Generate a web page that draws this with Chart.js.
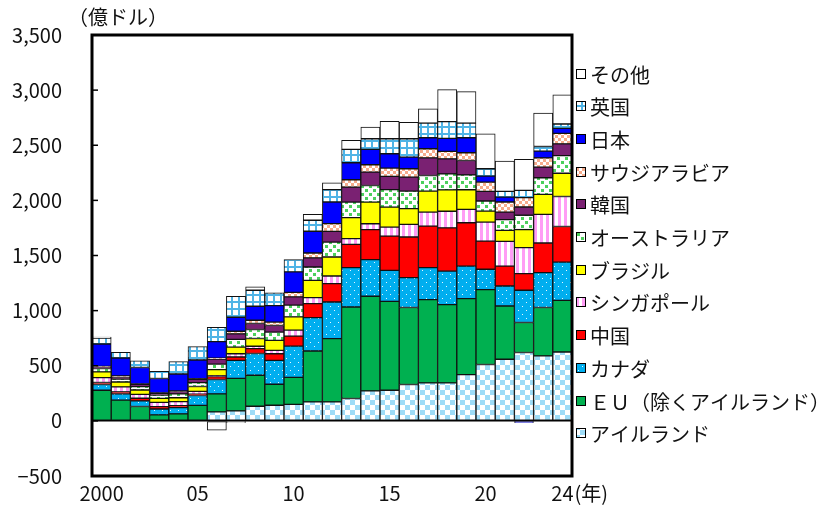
<!DOCTYPE html>
<html lang="ja">
<head>
<meta charset="utf-8">
<title>国・地域別 対内直接投資</title>
<script src="https://cdn.jsdelivr.net/npm/chart.js@4.4.1/dist/chart.umd.min.js"></script>
<style>
  html, body { margin: 0; padding: 0; background: #fff; }
  #wrap { width: 830px; height: 505px; }
</style>
</head>
<body>
<div id="wrap"><canvas id="fdi" width="830" height="505"></canvas></div>
<script>
// 年次（2000〜2024年）、単位：億ドル
const years = ['2000','2001','2002','2003','2004','2005','2006','2007','2008','2009','2010','2011','2012',
               '2013','2014','2015','2016','2017','2018','2019','2020','2021','2022','2023','2024'];
const xTickLabels = ['2000','','','','','05','','','','','10','','','','','15','','','','','20','','','','24'];
const yTicks = { min: -500, max: 3500, step: 500 };

const ireland   = [0,0,0,0,0,0,82,90,133,142,149,172,172,203,272,278,330,344,344,420,511,559,620,589,625];
const eu        = [278,188,130,54,63,140,163,296,281,190,245,462,574,830,858,806,698,756,710,689,680,483,272,439,468];
const canada    = [52,57,51,54,57,90,130,163,197,217,284,303,332,357,332,281,272,290,304,295,184,181,293,317,347];
const china     = [18,18,24,21,18,12,27,30,45,60,91,127,167,211,272,311,368,377,393,393,256,181,151,268,323];
const singapore = [45,45,36,39,36,25,9,30,21,30,54,54,69,52,54,82,115,127,150,121,172,224,236,260,272];
const brazil    = [52,45,39,36,36,45,54,60,70,91,121,157,172,190,196,181,142,190,194,178,100,100,163,181,211];
const australia = [30,25,30,30,35,35,50,70,82,75,106,121,136,141,151,158,159,142,145,136,91,97,130,151,160];
const korea     = [12,20,21,15,21,30,45,50,54,60,75,82,97,136,121,121,127,160,136,130,88,69,75,96,106];
const saudi     = [8,9,5,5,5,5,9,24,30,30,40,45,70,67,67,75,76,82,69,70,84,91,85,85,96];
const japan     = [202,163,148,130,154,170,150,127,127,151,187,197,196,154,139,130,105,100,118,136,54,45,-15,60,45];
const uk        = [54,51,60,66,112,121,130,190,145,115,112,100,112,121,97,136,167,132,151,132,67,52,66,43,40];
const others    = [8,0,0,0,0,0,-85,-15,30,0,0,54,63,82,105,159,150,130,290,287,317,275,281,302,265];

const FONT = '"Noto Sans CJK JP", "Noto Sans", sans-serif';
const NARROW = '"Liberation Sans Narrow", "Noto Sans CJK JP", sans-serif';
const canvas = document.getElementById('fdi');
const ctx = canvas.getContext('2d');

// small repeating tiles for the hatched series
function tile(w, h, bg, paint) {
  const c = document.createElement('canvas');
  c.width = w; c.height = h;
  const g = c.getContext('2d');
  g.fillStyle = bg;
  g.fillRect(0, 0, w, h);
  if (paint) paint(g);
  return ctx.createPattern(c, 'repeat');
}

const fills = {
  ireland: tile(10, 10, '#ffffff', g => {
    g.fillStyle = '#9edcf7';
    g.fillRect(0, 0, 5, 5); g.fillRect(5, 5, 5, 5);
  }),
  eu: '#00b050',
  canada: tile(8, 8, '#00aeef', g => {
    g.fillStyle = '#e8f8ff';
    g.fillRect(2, 2, 1, 1); g.fillRect(6, 6, 1, 1);
  }),
  china: '#ff0000',
  singapore: tile(6, 6, '#ffffff', g => {
    g.fillStyle = '#ff9df5';
    g.fillRect(0, 0, 3, 6);
  }),
  brazil: '#ffff00',
  australia: tile(8, 8, '#ffffff', g => {
    g.fillStyle = '#4ccf5c';
    g.fillRect(1, 1, 3, 3); g.fillRect(5, 5, 3, 3);
  }),
  korea: '#7a2172',
  saudi: tile(6, 6, '#ffffff', g => {
    g.fillStyle = '#f6ab8c';
    g.fillRect(0, 0, 3, 3); g.fillRect(3, 3, 3, 3);
  }),
  japan: '#0000ff',
  uk: tile(7, 7, '#ffffff', g => {
    g.fillStyle = '#4fb4e6';
    g.fillRect(0, 0, 7, 2); g.fillRect(0, 0, 2, 7);
  }),
  others: '#ffffff'
};

function series(label, data, fill) {
  return {
    label, data,
    backgroundColor: fill,
    borderColor: '#111',
    borderWidth: 1,
    borderSkipped: false,
    barPercentage: 1,
    categoryPercentage: 1
  };
}

// bottom of the stack first
const datasets = [
  series('アイルランド', ireland, fills.ireland),
  series('ＥＵ（除くアイルランド）', eu, fills.eu),
  series('カナダ', canada, fills.canada),
  series('中国', china, fills.china),
  series('シンガポール', singapore, fills.singapore),
  series('ブラジル', brazil, fills.brazil),
  series('オーストラリア', australia, fills.australia),
  series('韓国', korea, fills.korea),
  series('サウジアラビア', saudi, fills.saudi),
  series('日本', japan, fills.japan),
  series('英国', uk, fills.uk),
  series('その他', others, fills.others)
];

// frame, inward ticks and unit captions
const frame = {
  id: 'frame',
  afterDatasetsDraw(chart) {
    const { ctx, chartArea: a, scales: { x, y } } = chart;
    ctx.save();
    ctx.strokeStyle = '#000';
    ctx.lineWidth = 1.5;
    y.ticks.forEach(t => {
      const py = y.getPixelForValue(t.value);
      ctx.beginPath();
      ctx.moveTo(a.left, py);
      ctx.lineTo(a.left + 6, py);
      ctx.stroke();
    });
    ctx.lineWidth = 3;
    ctx.strokeRect(a.left, a.top, a.right - a.left, a.bottom - a.top);

    ctx.fillStyle = '#111';
    ctx.textBaseline = 'middle';
    ctx.textAlign = 'left';
    ctx.font = '20px ' + FONT;
    ctx.fillText('（億ドル）', 68, 17);
    ctx.font = '20px ' + NARROW;
    const last = years.length - 1;
    const px = x.getPixelForTick(last) + ctx.measureText(xTickLabels[last]).width / 2;
    ctx.fillText('(年)', px + 1, 493);
    ctx.restore();
  }
};

// legend on the right, top item = last dataset
const sideLegend = {
  id: 'sideLegend',
  afterDraw(chart) {
    const { ctx } = chart;
    const sets = chart.data.datasets.slice().reverse();
    ctx.save();
    ctx.font = '20px ' + FONT;
    ctx.textBaseline = 'middle';
    ctx.textAlign = 'left';
    sets.forEach((ds, i) => {
      const cy = Math.round(73.5 + i * 32.7);
      ctx.fillStyle = ds.backgroundColor;
      ctx.fillRect(576, cy - 5, 10, 10);
      ctx.strokeStyle = '#000';
      ctx.lineWidth = 1;
      ctx.strokeRect(576.5, cy - 4.5, 9, 9);
      ctx.fillStyle = '#111';
      ctx.fillText(ds.label, 590, cy + 1);
    });
    ctx.restore();
  }
};

new Chart(ctx, {
  type: 'bar',
  data: { labels: years, datasets },
  options: {
    responsive: false,
    animation: false,
    layout: { padding: { top: 35, right: 258, bottom: 0, left: 0 } },
    plugins: {
      legend: { display: false },
      tooltip: { enabled: false }
    },
    scales: {
      x: {
        stacked: true,
        grid: { display: false, drawTicks: false },
        border: { display: false },
        ticks: {
          autoSkip: false,
          maxRotation: 0,
          padding: 5,
          color: '#111',
          font: { family: NARROW, size: 20 },
          callback: (v, i) => xTickLabels[i]
        },
        afterFit: s => { s.height = 29; s.paddingLeft = 0; s.paddingRight = 0; }
      },
      y: {
        stacked: true,
        min: yTicks.min,
        max: yTicks.max,
        grid: {
          drawTicks: false,
          lineWidth: 1.5,
          color: c => (c.tick && c.tick.value === 0) ? '#000' : 'rgba(0,0,0,0)'
        },
        border: { display: false },
        ticks: {
          stepSize: yTicks.step,
          padding: 30,
          color: '#111',
          font: { family: FONT, size: 20 },
          callback: v => v < 0 ? '−' + Math.abs(v) : v.toLocaleString('en-US')
        },
        afterFit: s => { s.width = 92; s.paddingTop = 0; s.paddingBottom = 0; }
      }
    }
  },
  plugins: [frame, sideLegend]
});
</script>
</body>
</html>
